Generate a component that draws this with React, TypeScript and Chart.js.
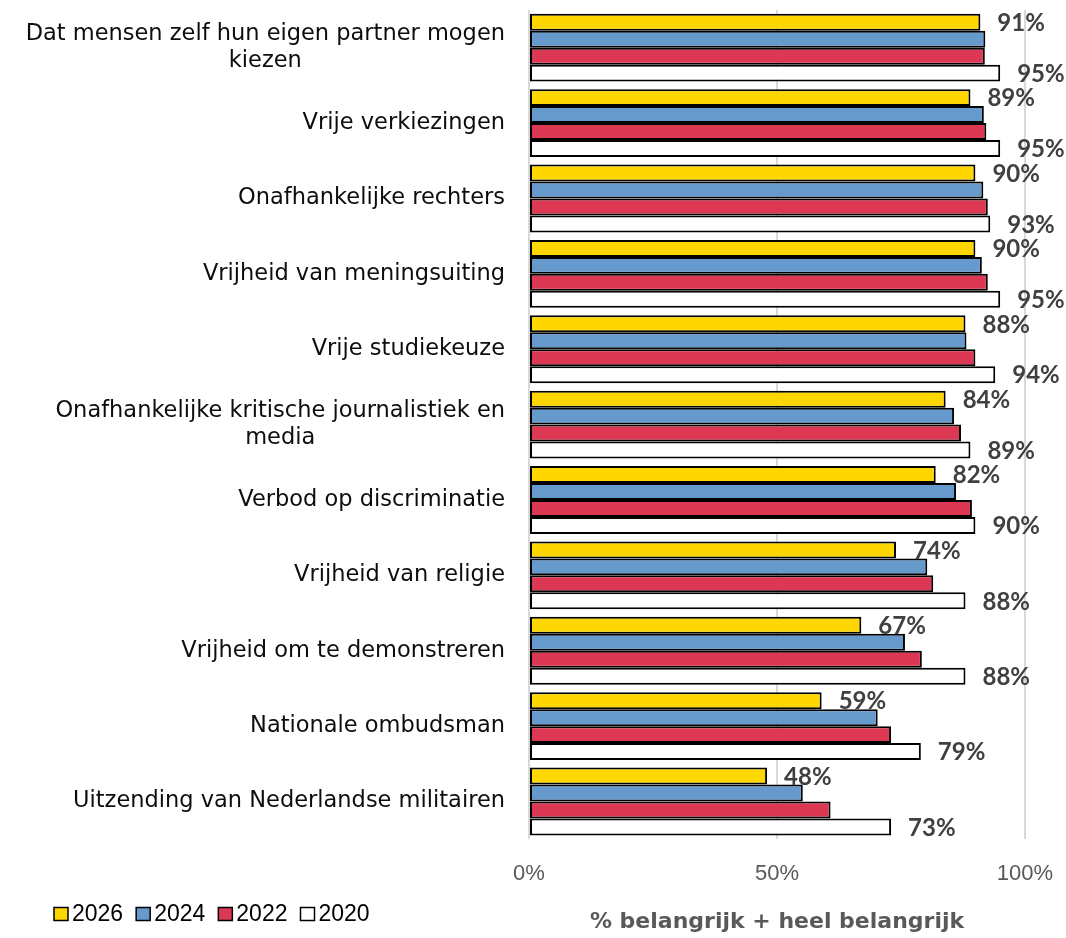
import React, { useEffect, useRef } from "react";
import { Chart, registerables } from "chart.js";

Chart.register(...registerables);

const categories: string[][] = [
  ["Dat mensen zelf hun eigen partner mogen", "kiezen"],
  ["Vrije verkiezingen"],
  ["Onafhankelijke rechters"],
  ["Vrijheid van meningsuiting"],
  ["Vrije studiekeuze"],
  ["Onafhankelijke kritische journalistiek en", "media"],
  ["Verbod op discriminatie"],
  ["Vrijheid van religie"],
  ["Vrijheid om te demonstreren"],
  ["Nationale ombudsman"],
  ["Uitzending van Nederlandse militairen"],
];

const seriesNames = ["2026", "2024", "2022", "2020"];
const values2026 = [91, 89, 90, 90, 88, 84, 82, 74, 67, 59, 48];
const values2024 = [92, 91.7, 91.6, 91.3, 88.2, 85.7, 86.1, 80.3, 75.8, 70.3, 55.2];
const values2022 = [91.9, 92.2, 92.5, 92.5, 90, 87.1, 89.3, 81.5, 79.2, 73, 60.8];
const values2020 = [95, 95, 93, 95, 94, 89, 90, 88, 88, 79, 73];
const seriesColors = ["#FFD700", "#6699CC", "#DC3753", "#FFFFFF"];
const labelledSeries = [0, 3];
const xTicks = [0, 50, 100];
const axisTitle = "% belangrijk + heel belangrijk";

const categoryLabelPlugin = {
  id: "categoryLabels",
  afterDraw(chart: any) {
    const ctx = chart.ctx;
    const yScale = chart.scales.y;
    const rightEdge = chart.chartArea.left - 24;
    const lineH = 27;
    ctx.save();
    ctx.font = "22.5px 'DejaVu Sans'";
    ctx.fillStyle = "#0D0D0D";
    ctx.textBaseline = "middle";
    ctx.textAlign = "center";
    categories.forEach((lines, i) => {
      const y = yScale.getPixelForValue(i);
      const maxW = Math.max(...lines.map((l) => ctx.measureText(l).width));
      const cx = rightEdge - maxW / 2;
      const y0 = y - ((lines.length - 1) * lineH) / 2;
      lines.forEach((l, j) => ctx.fillText(l, cx, y0 + j * lineH));
    });
    ctx.restore();
  },
};

const dataLabelPlugin = {
  id: "dataLabels",
  afterDatasetsDraw(chart: any) {
    const ctx = chart.ctx;
    ctx.save();
    ctx.font = "bold 24px Lato";
    ctx.fillStyle = "#404040";
    ctx.textBaseline = "middle";
    ctx.textAlign = "left";
    labelledSeries.forEach((di) => {
      const meta = chart.getDatasetMeta(di);
      const data = chart.data.datasets[di].data;
      meta.data.forEach((bar: any, i: number) => {
        ctx.fillText(`${data[i]}%`, bar.x + 17, bar.y + 1);
      });
    });
    ctx.restore();
  },
};

const legendPlugin = {
  id: "customLegend",
  afterDraw(chart: any) {
    const ctx = chart.ctx;
    ctx.save();
    ctx.font = "23px 'Liberation Sans'";
    ctx.textBaseline = "middle";
    ctx.textAlign = "left";
    let x = 54;
    const y = 914;
    chart.data.datasets.forEach((ds: any) => {
      ctx.fillStyle = ds.backgroundColor;
      ctx.fillRect(x, y - 6.5, 14, 13);
      ctx.strokeStyle = "#000000";
      ctx.lineWidth = 1.5;
      ctx.strokeRect(x, y - 6.5, 14, 13);
      ctx.fillStyle = "#000000";
      ctx.fillText(ds.label, x + 18, y + 1);
      x += 18 + ctx.measureText(ds.label).width + 13;
    });
    ctx.restore();
  },
};

export default function App() {
  const ref = useRef<HTMLCanvasElement>(null);
  useEffect(() => {
    if (!ref.current) return;
    const allValues = [values2026, values2024, values2022, values2020];
    const chart = new Chart(ref.current, {
      type: "bar",
      data: {
        labels: categories.map((c) => c.join(" ")),
        datasets: seriesNames.map((name, i) => ({
          label: name,
          data: allValues[i],
          backgroundColor: seriesColors[i],
          borderColor: "#000000",
          borderWidth: 2,
          borderSkipped: false,
          barPercentage: 1,
          categoryPercentage: 0.9,
        })),
      },
      options: {
        indexAxis: "y",
        animation: false,
        responsive: true,
        maintainAspectRatio: false,
        layout: { padding: { left: 529, right: 41, top: 10, bottom: 3 } },
        plugins: {
          legend: { display: false },
          tooltip: { enabled: false },
        },
        scales: {
          y: { type: "category", display: false },
          x: {
            min: 0,
            max: 100,
            afterBuildTicks: (axis: any) => {
              axis.ticks = xTicks.map((v) => ({ value: v }));
            },
            ticks: {
              callback: (v: any) => `${v}%`,
              font: { family: "'Liberation Sans'", size: 22 },
              color: "#595959",
              padding: 4,
              maxRotation: 0,
            },
            grid: {
              color: "#D9D9D9",
              lineWidth: 2,
              drawTicks: true,
              tickLength: 18,
              tickColor: "rgba(0,0,0,0)",
            },
            border: { display: false },
            title: {
              display: true,
              text: axisTitle,
              font: { family: "'DejaVu Sans'", size: 22, weight: "bold" },
              color: "#595959",
              padding: { top: 17, bottom: 0 },
            },
          },
        },
      },
      plugins: [categoryLabelPlugin, dataLabelPlugin, legendPlugin],
    });
    return () => chart.destroy();
  }, []);
  return (
    <div style={{ position: "fixed", left: 0, top: 0, width: 1066, height: 938, background: "#fff" }}>
      <canvas ref={ref} />
    </div>
  );
}
